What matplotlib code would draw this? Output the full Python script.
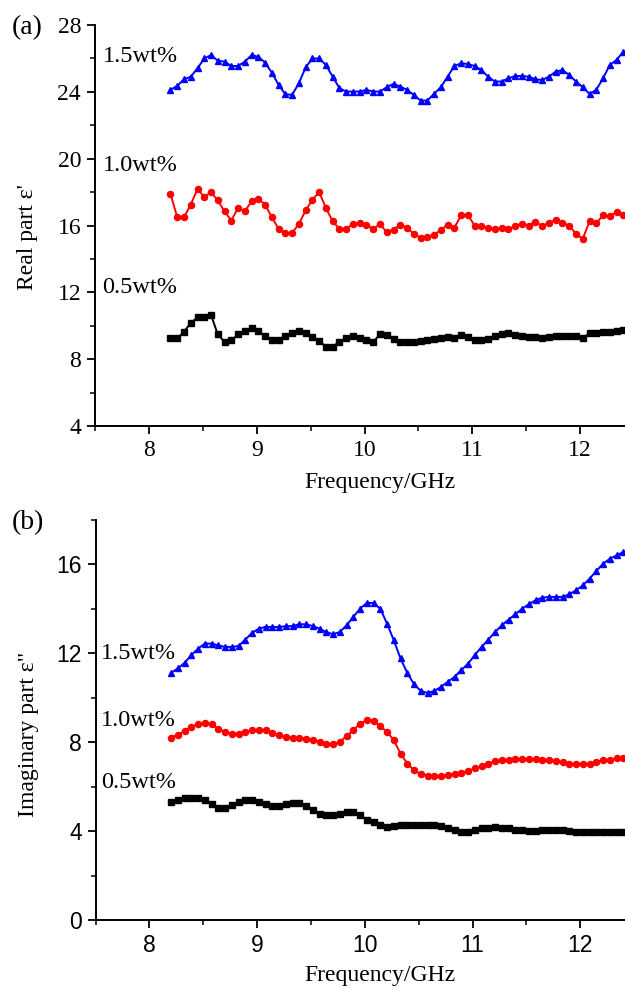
import numpy as np
import matplotlib
matplotlib.use("Agg")
import matplotlib.pyplot as plt
from matplotlib.ticker import MultipleLocator

# Frequency grid (GHz): 68 evenly spaced measurement points
freq = np.linspace(8.2, 12.4, 68)

labels = ["0.5wt%", "1.0wt%", "1.5wt%"]

real_05 = [9.24, 9.24, 9.64, 10.17, 10.5, 10.52, 10.65, 9.48, 9.04, 9.12,
           9.48, 9.71, 9.87, 9.67, 9.38, 9.16, 9.16, 9.40, 9.56, 9.67,
           9.58, 9.34, 9.08, 8.75, 8.75, 9.04, 9.28, 9.36, 9.24, 9.12,
           9.04, 9.48, 9.44, 9.18, 9.0, 9.0, 9.04, 9.08, 9.16, 9.18,
           9.24, 9.32, 9.28, 9.42, 9.32, 9.12, 9.12, 9.2, 9.38, 9.52,
           9.54, 9.42, 9.36, 9.34, 9.32, 9.28, 9.34, 9.36, 9.38, 9.4,
           9.36, 9.24, 9.56, 9.54, 9.64, 9.64, 9.67, 9.73]

real_10 = [17.9, 16.5, 16.5, 17.25, 18.2, 17.7, 18.0, 17.5, 16.85, 16.3,
           17.05, 16.85, 17.45, 17.6, 17.25, 16.5, 15.8, 15.55, 15.55, 16.1,
           16.9, 17.55, 18.0, 17.05, 16.25, 15.8, 15.8, 16.1, 16.15, 16.05,
           15.8, 16.08, 15.6, 15.76, 16.06, 15.86, 15.5, 15.26, 15.3, 15.46,
           15.72, 16.06, 15.86, 16.6, 16.63, 16.0, 16.0, 15.86, 15.8, 15.84,
           15.8, 15.96, 16.12, 16.0, 16.23, 15.96, 16.16, 16.35, 16.16, 16.0,
           15.5, 15.2, 16.25, 16.15, 16.6, 16.55, 16.8, 16.65]

real_15 = [24.12, 24.36, 24.75, 24.91, 25.41, 26.0, 26.2, 25.87, 25.81, 25.55,
           25.55, 25.81, 26.2, 26.1, 25.75, 25.15, 24.42, 23.86, 23.82, 24.52,
           25.47, 26.0, 26.0, 25.61, 24.91, 24.22, 24.02, 24.02, 24.02, 24.12,
           24.02, 24.02, 24.28, 24.48, 24.32, 24.12, 23.82, 23.48, 23.48, 23.88,
           24.28, 24.91, 25.55, 25.71, 25.67, 25.55, 25.31, 24.91, 24.62, 24.62,
           24.81, 24.95, 24.95, 24.91, 24.75, 24.71, 24.91, 25.21, 25.31, 25.01,
           24.62, 24.28, 23.88, 24.12, 24.81, 25.61, 25.91, 26.41]

imag_05 = [5.32, 5.42, 5.51, 5.51, 5.51, 5.42, 5.24, 5.06, 5.06, 5.17,
           5.32, 5.42, 5.42, 5.32, 5.21, 5.12, 5.12, 5.21, 5.27, 5.27,
           5.12, 4.94, 4.79, 4.72, 4.72, 4.79, 4.87, 4.87, 4.72, 4.52,
           4.42, 4.27, 4.19, 4.22, 4.27, 4.27, 4.27, 4.27, 4.27, 4.27,
           4.22, 4.15, 4.04, 3.97, 3.97, 4.04, 4.12, 4.16, 4.19, 4.16,
           4.12, 4.07, 4.04, 4.01, 4.01, 4.04, 4.07, 4.07, 4.04, 4.01,
           3.97, 3.97, 3.97, 3.97, 3.97, 3.97, 3.97, 3.97]

imag_10 = [8.21, 8.34, 8.51, 8.69, 8.81, 8.87, 8.81, 8.61, 8.46, 8.39,
           8.39, 8.46, 8.54, 8.57, 8.54, 8.42, 8.31, 8.24, 8.21, 8.21,
           8.16, 8.12, 8.02, 7.94, 7.90, 8.02, 8.27, 8.54, 8.84, 8.99,
           8.96, 8.72, 8.47, 8.09, 7.49, 7.04, 6.74, 6.56, 6.49, 6.47,
           6.49, 6.52, 6.56, 6.62, 6.71, 6.82, 6.92, 7.04, 7.15, 7.19,
           7.22, 7.24, 7.24, 7.24, 7.24, 7.22, 7.19, 7.16, 7.10, 7.04,
           7.01, 7.01, 7.04, 7.12, 7.19, 7.22, 7.27, 7.27]

imag_15 = [11.12, 11.32, 11.57, 11.92, 12.21, 12.44, 12.44, 12.36, 12.29, 12.29,
           12.33, 12.62, 12.92, 13.11, 13.19, 13.19, 13.19, 13.22, 13.23, 13.31,
           13.31, 13.23, 13.11, 12.96, 12.86, 12.96, 13.26, 13.64, 14.01, 14.27,
           14.27, 14.01, 13.34, 12.59, 11.77, 11.12, 10.61, 10.31, 10.22, 10.31,
           10.49, 10.72, 10.94, 11.24, 11.54, 11.92, 12.29, 12.62, 12.96, 13.26,
           13.52, 13.76, 14.01, 14.21, 14.39, 14.51, 14.54, 14.54, 14.54, 14.66,
           14.84, 15.06, 15.36, 15.71, 16.03, 16.26, 16.41, 16.56]

serif = "Liberation Serif"
sans = "Liberation Sans"

fig = plt.figure(figsize=(6.25, 9.9), dpi=100)
ax1 = fig.add_axes([0.152, 0.5697, 0.847, 0.405])
ax2 = fig.add_axes([0.153, 0.0707, 0.846, 0.404])

styles = [("black", "s", 3.8), ("#ff0000", "o", 4.4), ("#0000ff", "^", 4.6)]

def style_axes(ax, tickfont, tsize):
    for s in ["top", "right"]:
        ax.spines[s].set_visible(False)
    for s in ["left", "bottom"]:
        ax.spines[s].set_linewidth(1.4)
    ax.set_xlim(7.5, 12.41)
    ax.xaxis.set_major_locator(MultipleLocator(1))
    ax.xaxis.set_minor_locator(MultipleLocator(0.5))
    ax.tick_params(which="major", direction="out", length=6, width=1.3,
                   labelsize=tsize, pad=4)
    ax.tick_params(which="minor", direction="out", length=3.5, width=1.1)
    for lab in ax.get_xticklabels() + ax.get_yticklabels():
        lab.set_fontfamily(tickfont)

# Top panel: real part
for vals, (c, m, ms) in zip([real_05, real_10, real_15], styles):
    ax1.plot(freq, vals, color=c, marker=m, markersize=ms, linewidth=1.4, clip_on=False)
ax1.set_ylim(4, 28)
ax1.yaxis.set_major_locator(MultipleLocator(4))
ax1.yaxis.set_minor_locator(MultipleLocator(2))
style_axes(ax1, serif, 17)
ax1.set_xlabel("Frequency/GHz", fontfamily=serif, fontsize=17, va="center", ha="center")
ax1.xaxis.set_label_coords(0.538, -0.14)
ax1.set_ylabel("Real part ε'", fontfamily=serif, fontsize=17, va="center", ha="center")
ax1.yaxis.set_label_coords(-0.128, 0.47)
for lab, y in zip(labels, [12.3, 19.6, 26.1]):
    ax1.text(7.57, y, lab, fontfamily=serif, fontsize=17.5, va="center", ha="left")

# Bottom panel: imaginary part
for vals, (c, m, ms) in zip([imag_05, imag_10, imag_15], styles):
    ax2.plot(freq, vals, color=c, marker=m, markersize=ms, linewidth=1.4, clip_on=False)
ax2.set_ylim(0, 18)
ax2.yaxis.set_major_locator(MultipleLocator(4))
ax2.yaxis.set_minor_locator(MultipleLocator(2))
style_axes(ax2, sans, 16.5)
ax2.set_xlabel("Frequency/GHz", fontfamily=serif, fontsize=17, va="center", ha="center")
ax2.xaxis.set_label_coords(0.538, -0.1375)
ax2.set_ylabel('Imaginary part ε"', fontfamily=serif, fontsize=17, va="center", ha="center")
ax2.yaxis.set_label_coords(-0.127, 0.465)
for lab, y in zip(labels, [6.2, 9.0, 12.0]):
    ax2.text(7.55, y, lab, fontfamily=serif, fontsize=17.5, va="center", ha="left")

fig.text(0.019, 0.972, "(a)", fontfamily=serif, fontsize=20, va="center", ha="left")
fig.text(0.019, 0.472, "(b)", fontfamily=serif, fontsize=20, va="center", ha="left")

fig.savefig("out.png", dpi=100)
